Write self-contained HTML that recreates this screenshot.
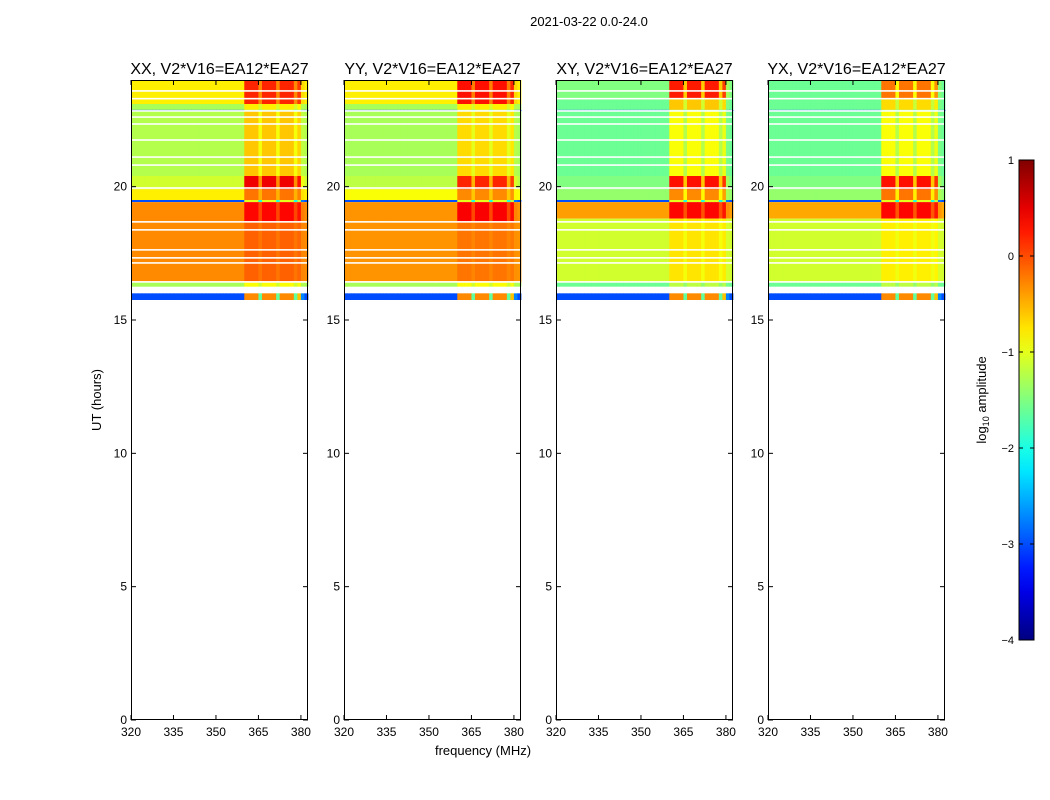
<!DOCTYPE html>
<html><head><meta charset="utf-8">
<style>
body{margin:0;background:#fff;}
svg{display:block;font-family:"Liberation Sans",sans-serif;}
</style></head>
<body>
<svg id="fig" width="1050" height="800" viewBox="0 0 1050 800">
<rect width="1050" height="800" fill="#fff"/>
<text x="589" y="26" font-size="13" text-anchor="middle">2021-03-22 0.0-24.0</text>
<text transform="translate(101,400) rotate(-90)" font-size="13" text-anchor="middle">UT (hours)</text>
<text x="483" y="755" font-size="13" text-anchor="middle">frequency (MHz)</text>
<g id="panels"></g>
<g id="cbar"></g>
</svg>
<script>
// ---- data ----
const panelTitles = ["XX, V2*V16=EA12*EA27","YY, V2*V16=EA12*EA27","XY, V2*V16=EA12*EA27","YX, V2*V16=EA12*EA27"];
const xTicks = [320,335,350,365,380];
const yTicks = [0,5,10,15,20];
const cbarTicks = [1,0,-1,-2,-3,-4];
const cbarTickLabels = ["1","0","\u22121","\u22122","\u22123","\u22124"];
// column mask: 50 channels of 1.25 MHz from 320 MHz (sub-band RFI blocks)
const colMask = [0,0,0,0,0,0,0,0,0,0, 0,0,0,0,0,0,0,0,0,0, 0,0,0,0,0,0,0,0,0,0, 0,0,1,1,1,1,0.5,1,1,1, 1,0.5,1,1,1,1,0.5,0.9,0.1,0];
// segments: [hourStart, hourEnd, leftValue, bandValue]
const segXX = [[23.1,24,-0.8,0.2],[22.88,23.1,-1.3,-0.8],[22.83,22.88,-3.0,-1.5],[20.4,22.83,-1.25,-0.6],[19.9,20.4,-1.1,0.45],[19.5,19.9,-0.8,-0.2],[19.42,19.5,-3.0,-1],[18.7,19.42,-0.3,0.35],[16.4,18.7,-0.3,-0.1],[16.25,16.4,-1.3,-0.9],[15.75,16.0,-3.0,-0.3]];
const segYY = [[23.1,24,-0.8,0.3],[22.88,23.1,-1.3,-0.8],[22.83,22.88,-3.0,-1.5],[20.4,22.83,-1.3,-0.7],[19.9,20.4,-1.2,0.2],[19.5,19.9,-0.9,-0.3],[19.42,19.5,-3.0,-1],[18.7,19.42,-0.35,0.4],[16.4,18.7,-0.35,-0.2],[16.25,16.4,-1.3,-0.9],[15.75,16.0,-3.0,-0.3]];
const segXY = [[23.3,24,-1.5,0.25],[22.88,23.3,-1.6,-0.6],[22.83,22.88,-3.0,-1.5],[20.4,22.83,-1.6,-0.9],[19.9,20.4,-1.5,0.3],[19.5,19.9,-1.4,-0.3],[19.42,19.5,-3.0,-1],[18.8,19.42,-0.4,0.35],[16.4,18.8,-1.1,-0.75],[16.25,16.4,-1.6,-1.2],[15.75,16.0,-3.0,-0.3]];
const segYX = [[23.3,24,-1.6,-0.2],[22.88,23.3,-1.6,-0.7],[22.83,22.88,-3.0,-1.5],[20.4,22.83,-1.6,-0.9],[19.9,20.4,-1.5,0.3],[19.5,19.9,-1.4,-0.2],[19.42,19.5,-3.0,-1],[18.8,19.42,-0.45,0.35],[16.4,18.8,-1.1,-0.8],[16.25,16.4,-1.6,-1.2],[15.75,16.0,-3.0,-0.3]];
const gapHours = [23.59,23.30,22.84,22.61,22.35,21.75,21.11,20.81,19.95,18.68,18.38,17.63,17.33,17.14,16.43];

// ---- geometry ----
const NS = "http://www.w3.org/2000/svg";
const panelX = [131,344,556,768];
const pw = 177, plotTop = 80, plotBot = 720;
const fMin = 320, fMax = 382.5, chW = 1.25;
function yScale(h){ return plotBot - (h/24)*(plotBot-plotTop); }
function xScale(p,f){ return panelX[p] + (f-fMin)/(fMax-fMin)*pw; }
function clip(v){ return Math.max(0,Math.min(1,v)); }
function jet(v){
  const t = clip((v+4)/5);
  const r=clip(1.5-Math.abs(4*t-3)), g=clip(1.5-Math.abs(4*t-2)), b=clip(1.5-Math.abs(4*t-1));
  return `rgb(${Math.round(r*255)},${Math.round(g*255)},${Math.round(b*255)})`;
}
function mk(tag, attrs, parent){ const e=document.createElementNS(NS,tag); for(const k in attrs) e.setAttribute(k,attrs[k]); parent.appendChild(e); return e; }

const allSegs = [segXX,segYY,segXY,segYX];
const panels = document.getElementById('panels');
for(let p=0;p<4;p++){
  const g = mk('g',{},panels);
  
  
  const hm = mk('g',{},g);
  
  
  allSegs[p].forEach(s=>{
    const y0=yScale(s[1]), y1=yScale(s[0]);
    for(let c=0;c<colMask.length;c++){
      const f0=fMin+c*chW;
      const v = s[2] + (s[3]-s[2])*colMask[c];
      const x0=xScale(p,f0), x1=xScale(p,f0+chW);
      const r = mk('rect',{x:x0.toFixed(2),y:y0.toFixed(2),width:(x1-x0+0.4).toFixed(2),height:(y1-y0).toFixed(2),fill:jet(v)},hm);
      
      
    }
  });
  gapHours.forEach(h=>{
    const l = mk('rect',{x:panelX[p],y:(yScale(h)-0.8).toFixed(2),width:pw,height:1.6,fill:'#fff'},hm);
    
    
  });
  const fr = mk('rect',{x:panelX[p]+0.5,y:plotTop+0.5,width:pw-1,height:plotBot-plotTop-1,fill:'none',stroke:'#000','stroke-width':1},g);
  
  
  const t = mk('text',{x:panelX[p]+pw/2,y:74,'font-size':16,'text-anchor':'middle'},g);
  t.textContent = panelTitles[p];
  
  
  xTicks.forEach(f=>{
    const x=xScale(p,f);
    mk('line',{x1:x,x2:x,y1:plotBot,y2:plotBot-5,stroke:'#000'},g);
    mk('line',{x1:x,x2:x,y1:plotTop,y2:plotTop+5,stroke:'#000'},g);
    const tl = mk('text',{x:x,y:plotBot+16,'font-size':12,'text-anchor':'middle'},g);
    tl.textContent = f;
    
    
  });
  yTicks.forEach(h=>{
    const y=yScale(h);
    mk('line',{x1:panelX[p],x2:panelX[p]+5,y1:y,y2:y,stroke:'#000'},g);
    mk('line',{x1:panelX[p]+pw,x2:panelX[p]+pw-5,y1:y,y2:y,stroke:'#000'},g);
    const tl = mk('text',{x:panelX[p]-4,y:y+4,'font-size':12,'text-anchor':'end'},g);
    tl.textContent = h;
    
    
  });
}
// colorbar
const cb = document.getElementById('cbar');


const cx=1019, cw=15, ct=160, cbt=640;
const defs = mk('defs',{},cb);
const grad = mk('linearGradient',{id:'jetg',x1:0,y1:1,x2:0,y2:0},defs);
for(let i=0;i<=20;i++){ mk('stop',{offset:i/20,'stop-color':jet(-4+5*i/20)},grad); }
mk('rect',{x:cx,y:ct,width:cw,height:cbt-ct,fill:'url(#jetg)',stroke:'#000'},cb);
cbarTicks.forEach((v,i)=>{
  const y = cbt - (v+4)/5*(cbt-ct);
  mk('line',{x1:cx,x2:cx+4,y1:y,y2:y,stroke:'#000'},cb);
  mk('line',{x1:cx+cw,x2:cx+cw-4,y1:y,y2:y,stroke:'#000'},cb);
  const tl = mk('text',{x:cx-5,y:y+4,'font-size':11,'text-anchor':'end'},cb);
  tl.textContent = cbarTickLabels[i];
  
  
});
const cl = mk('text',{transform:'translate(986,400) rotate(-90)','font-size':13,'text-anchor':'middle'},cb);
cl.innerHTML = 'log<tspan font-size="9" dy="3">10</tspan><tspan dy="-3"> amplitude</tspan>';


</script>
</body></html>
